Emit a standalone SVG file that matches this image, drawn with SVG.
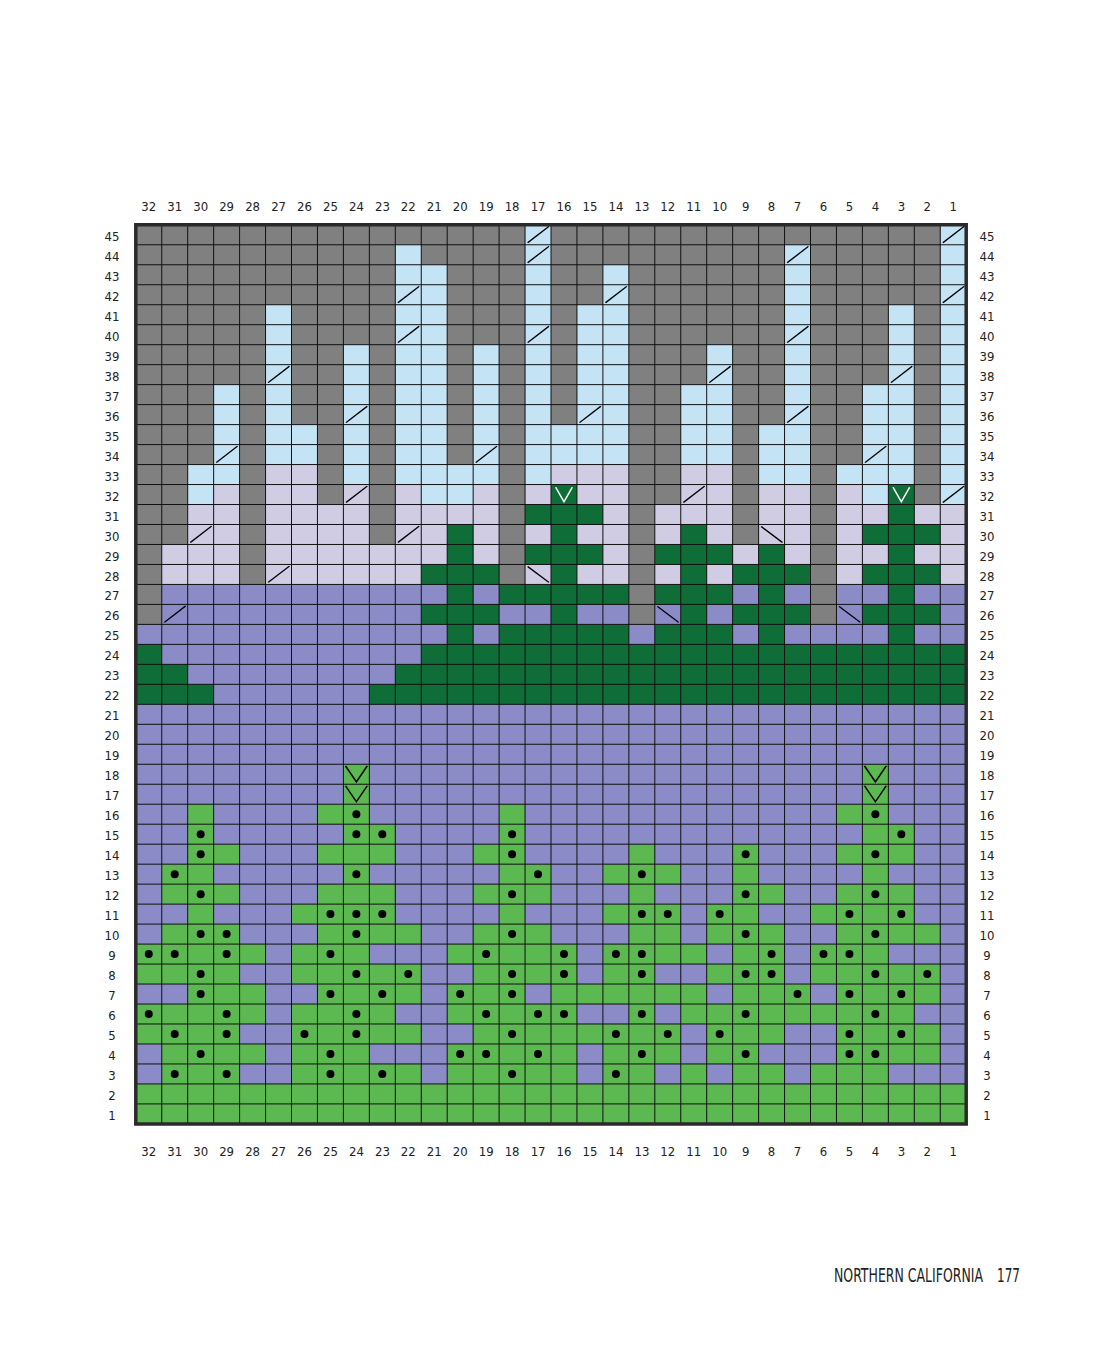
<svg xmlns="http://www.w3.org/2000/svg" xmlns:xlink="http://www.w3.org/1999/xlink" width="1107" height="1364" viewBox="0 0 1107 1364">
<style>
.g{fill:#808080}.b{fill:#c4e4f6}.l{fill:#cfcce4}.p{fill:#8b8bc7}.dk{fill:#0f6e38}.e{fill:#5cb850}
.n{font-family:'Liberation Sans Narrow','DejaVu Sans Condensed','Liberation Sans',sans-serif;font-stretch:condensed;font-size:13px;fill:#222;text-anchor:middle}
.ft{font-family:'Liberation Sans Narrow','DejaVu Sans Condensed','Liberation Sans',sans-serif;font-stretch:condensed;font-size:13.8px;fill:#222}
</style>
<defs>
<path id="s" d="M.1 .9L.92 .08" stroke="#000" stroke-width=".06" fill="none"/>
<path id="bs" d="M.1 .1L.92 .9" stroke="#000" stroke-width=".06" fill="none"/>
<path id="vw" d="M.18 .14L.5 .86L.82 .14" stroke="#fff" stroke-width=".06" fill="none"/>
<path id="vb" d="M.08 .08L.5 .88L.92 .08" stroke="#000" stroke-width=".06" fill="none"/>
<ellipse id="d" cx=".5" cy=".5" rx=".154" ry=".2" fill="#000"/>
</defs>
<rect width="1107" height="1364" fill="#fff"/>
<g id="chart" transform="translate(135.8 224.8) scale(25.95 19.98)">
<rect class="p" width="32" height="45"/>
<rect class="b" width="32" height="14"/>
<path class="l" d="M0 14h32v4h-32zM5 12h2v2h-2zM17 12h2v2h-2zM21 12h2v2h-2zM16 12h1v1h-1zM3 13h1v1h-1zM8 13h1v1h-1zM10 13h1v1h-1zM13 13h1v1h-1zM15 13h1v1h-1zM24 13h2v1h-2zM27 13h1v1h-1z"/>
<path class="g" d="M0 0h1v20h-1zM1 0h1v16h-1zM2 0h1v12h-1zM3 0h1v8h-1zM4 0h1v18h-1zM5 0h1v4h-1zM6 0h1v10h-1zM7 0h1v14h-1zM8 0h1v6h-1zM9 0h1v16h-1zM10 0h1v1h-1zM11 0h1v2h-1zM12 0h1v12h-1zM13 0h1v6h-1zM14 0h1v18h-1zM16 0h1v10h-1zM17 0h1v4h-1zM18 0h1v2h-1zM19 0h1v20h-1zM20 0h1v14h-1zM21 0h1v8h-1zM22 0h1v6h-1zM23 0h1v16h-1zM24 0h1v10h-1zM25 0h1v1h-1zM26 0h1v20h-1zM27 0h1v12h-1zM28 0h1v8h-1zM29 0h1v4h-1zM30 0h1v14h-1z"/>
<path class="dk" d="M16 13h1v1h-1zM29 13h1v1h-1zM15 14h3v1h-3zM29 14h1v1h-1zM12 15h1v1h-1zM16 15h1v1h-1zM21 15h1v1h-1zM28 15h3v1h-3zM12 16h1v1h-1zM15 16h3v1h-3zM20 16h3v1h-3zM24 16h1v1h-1zM29 16h1v1h-1zM11 17h3v1h-3zM16 17h1v1h-1zM21 17h1v1h-1zM23 17h3v1h-3zM28 17h3v1h-3zM12 18h1v1h-1zM14 18h5v1h-5zM20 18h3v1h-3zM24 18h1v1h-1zM29 18h1v1h-1zM11 19h3v1h-3zM16 19h1v1h-1zM21 19h1v1h-1zM23 19h3v1h-3zM28 19h3v1h-3zM12 20h1v1h-1zM14 20h5v1h-5zM20 20h3v1h-3zM24 20h1v1h-1zM29 20h1v1h-1zM11 21h21v3h-21zM10 22h1v2h-1zM9 23h1v1h-1zM0 21h1v3h-1zM1 22h1v2h-1zM2 23h1v1h-1z"/>
<path class="e" d="M8 27h1v2h-1zM28 27h1v2h-1zM2 29h1v1h-1zM7 29h2v1h-2zM14 29h1v1h-1zM27 29h2v1h-2zM2 30h1v1h-1zM8 30h2v1h-2zM14 30h1v1h-1zM28 30h2v1h-2zM2 31h2v1h-2zM7 31h3v1h-3zM13 31h2v1h-2zM19 31h1v1h-1zM23 31h1v1h-1zM27 31h3v1h-3zM1 32h2v1h-2zM8 32h1v1h-1zM14 32h2v1h-2zM18 32h3v1h-3zM23 32h1v1h-1zM28 32h1v1h-1zM1 33h3v1h-3zM7 33h3v1h-3zM13 33h3v1h-3zM19 33h1v1h-1zM23 33h2v1h-2zM27 33h3v1h-3zM2 34h1v1h-1zM6 34h4v1h-4zM14 34h1v1h-1zM18 34h3v1h-3zM22 34h2v1h-2zM26 34h4v1h-4zM1 35h3v1h-3zM7 35h4v1h-4zM13 35h3v1h-3zM19 35h2v1h-2zM22 35h3v1h-3zM27 35h4v1h-4zM0 36h5v1h-5zM6 36h3v1h-3zM12 36h5v1h-5zM18 36h4v1h-4zM23 36h2v1h-2zM26 36h3v1h-3zM0 37h4v1h-4zM6 37h5v1h-5zM13 37h4v1h-4zM18 37h2v1h-2zM22 37h3v1h-3zM26 37h5v1h-5zM2 38h3v1h-3zM7 38h4v1h-4zM12 38h3v1h-3zM16 38h6v1h-6zM23 38h3v1h-3zM27 38h4v1h-4zM0 39h5v1h-5zM6 39h4v1h-4zM12 39h5v1h-5zM19 39h1v1h-1zM21 39h9v1h-9zM0 40h4v1h-4zM6 40h5v1h-5zM13 40h8v1h-8zM22 40h3v1h-3zM27 40h4v1h-4zM1 41h4v1h-4zM6 41h3v1h-3zM12 41h5v1h-5zM18 41h3v1h-3zM22 41h2v1h-2zM27 41h4v1h-4zM1 42h3v1h-3zM6 42h5v1h-5zM12 42h5v1h-5zM18 42h2v1h-2zM21 42h1v1h-1zM23 42h2v1h-2zM26 42h3v1h-3zM0 43h32v2h-32z"/>
<path d="M1 0V45M2 0V45M3 0V45M4 0V45M5 0V45M6 0V45M7 0V45M8 0V45M9 0V45M10 0V45M11 0V45M12 0V45M13 0V45M14 0V45M15 0V45M16 0V45M17 0V45M18 0V45M19 0V45M20 0V45M21 0V45M22 0V45M23 0V45M24 0V45M25 0V45M26 0V45M27 0V45M28 0V45M29 0V45M30 0V45M31 0V45M0 1H32M0 2H32M0 3H32M0 4H32M0 5H32M0 6H32M0 7H32M0 8H32M0 9H32M0 10H32M0 11H32M0 12H32M0 13H32M0 14H32M0 15H32M0 16H32M0 17H32M0 18H32M0 19H32M0 20H32M0 21H32M0 22H32M0 23H32M0 24H32M0 25H32M0 26H32M0 27H32M0 28H32M0 29H32M0 30H32M0 31H32M0 32H32M0 33H32M0 34H32M0 35H32M0 36H32M0 37H32M0 38H32M0 39H32M0 40H32M0 41H32M0 42H32M0 43H32M0 44H32" stroke="#111" stroke-width="1" fill="none" vector-effect="non-scaling-stroke"/>
<rect width="32" height="45" fill="none" stroke="#2a2a2a" stroke-width="3.5" vector-effect="non-scaling-stroke"/>
<g id="slashes">
<use xlink:href="#s" x="15" y="0"/><use xlink:href="#s" x="31" y="0"/>
<use xlink:href="#s" x="15" y="1"/><use xlink:href="#s" x="25" y="1"/>
<use xlink:href="#s" x="10" y="3"/><use xlink:href="#s" x="18" y="3"/><use xlink:href="#s" x="31" y="3"/>
<use xlink:href="#s" x="10" y="5"/><use xlink:href="#s" x="15" y="5"/><use xlink:href="#s" x="25" y="5"/>
<use xlink:href="#s" x="5" y="7"/><use xlink:href="#s" x="22" y="7"/><use xlink:href="#s" x="29" y="7"/>
<use xlink:href="#s" x="8" y="9"/><use xlink:href="#s" x="17" y="9"/><use xlink:href="#s" x="25" y="9"/>
<use xlink:href="#s" x="3" y="11"/><use xlink:href="#s" x="13" y="11"/><use xlink:href="#s" x="28" y="11"/>
<use xlink:href="#s" x="8" y="13"/><use xlink:href="#s" x="21" y="13"/><use xlink:href="#s" x="31" y="13"/>
<use xlink:href="#s" x="2" y="15"/><use xlink:href="#s" x="10" y="15"/>
<use xlink:href="#s" x="5" y="17"/>
<use xlink:href="#s" x="1" y="19"/>
<use xlink:href="#bs" x="24" y="15"/><use xlink:href="#bs" x="15" y="17"/><use xlink:href="#bs" x="20" y="19"/><use xlink:href="#bs" x="27" y="19"/>
<use xlink:href="#vw" x="16" y="13"/><use xlink:href="#vw" x="29" y="13"/>
<use xlink:href="#vb" x="8" y="27"/><use xlink:href="#vb" x="28" y="27"/><use xlink:href="#vb" x="8" y="28"/><use xlink:href="#vb" x="28" y="28"/>
</g>
<g id="dots">
<use xlink:href="#d" x="8" y="29"/><use xlink:href="#d" x="28" y="29"/>
<use xlink:href="#d" x="2" y="30"/><use xlink:href="#d" x="8" y="30"/><use xlink:href="#d" x="9" y="30"/><use xlink:href="#d" x="14" y="30"/><use xlink:href="#d" x="29" y="30"/>
<use xlink:href="#d" x="2" y="31"/><use xlink:href="#d" x="14" y="31"/><use xlink:href="#d" x="23" y="31"/><use xlink:href="#d" x="28" y="31"/>
<use xlink:href="#d" x="1" y="32"/><use xlink:href="#d" x="8" y="32"/><use xlink:href="#d" x="15" y="32"/><use xlink:href="#d" x="19" y="32"/>
<use xlink:href="#d" x="2" y="33"/><use xlink:href="#d" x="14" y="33"/><use xlink:href="#d" x="23" y="33"/><use xlink:href="#d" x="28" y="33"/>
<use xlink:href="#d" x="7" y="34"/><use xlink:href="#d" x="8" y="34"/><use xlink:href="#d" x="9" y="34"/><use xlink:href="#d" x="19" y="34"/><use xlink:href="#d" x="20" y="34"/><use xlink:href="#d" x="22" y="34"/><use xlink:href="#d" x="27" y="34"/><use xlink:href="#d" x="29" y="34"/>
<use xlink:href="#d" x="2" y="35"/><use xlink:href="#d" x="3" y="35"/><use xlink:href="#d" x="8" y="35"/><use xlink:href="#d" x="14" y="35"/><use xlink:href="#d" x="23" y="35"/><use xlink:href="#d" x="28" y="35"/>
<use xlink:href="#d" x="0" y="36"/><use xlink:href="#d" x="1" y="36"/><use xlink:href="#d" x="3" y="36"/><use xlink:href="#d" x="7" y="36"/><use xlink:href="#d" x="13" y="36"/><use xlink:href="#d" x="16" y="36"/><use xlink:href="#d" x="18" y="36"/><use xlink:href="#d" x="19" y="36"/><use xlink:href="#d" x="24" y="36"/><use xlink:href="#d" x="26" y="36"/><use xlink:href="#d" x="27" y="36"/>
<use xlink:href="#d" x="2" y="37"/><use xlink:href="#d" x="8" y="37"/><use xlink:href="#d" x="10" y="37"/><use xlink:href="#d" x="14" y="37"/><use xlink:href="#d" x="16" y="37"/><use xlink:href="#d" x="19" y="37"/><use xlink:href="#d" x="23" y="37"/><use xlink:href="#d" x="24" y="37"/><use xlink:href="#d" x="28" y="37"/><use xlink:href="#d" x="30" y="37"/>
<use xlink:href="#d" x="2" y="38"/><use xlink:href="#d" x="7" y="38"/><use xlink:href="#d" x="9" y="38"/><use xlink:href="#d" x="12" y="38"/><use xlink:href="#d" x="14" y="38"/><use xlink:href="#d" x="25" y="38"/><use xlink:href="#d" x="27" y="38"/><use xlink:href="#d" x="29" y="38"/>
<use xlink:href="#d" x="0" y="39"/><use xlink:href="#d" x="3" y="39"/><use xlink:href="#d" x="8" y="39"/><use xlink:href="#d" x="13" y="39"/><use xlink:href="#d" x="15" y="39"/><use xlink:href="#d" x="16" y="39"/><use xlink:href="#d" x="19" y="39"/><use xlink:href="#d" x="23" y="39"/><use xlink:href="#d" x="28" y="39"/>
<use xlink:href="#d" x="1" y="40"/><use xlink:href="#d" x="3" y="40"/><use xlink:href="#d" x="6" y="40"/><use xlink:href="#d" x="8" y="40"/><use xlink:href="#d" x="14" y="40"/><use xlink:href="#d" x="18" y="40"/><use xlink:href="#d" x="20" y="40"/><use xlink:href="#d" x="22" y="40"/><use xlink:href="#d" x="27" y="40"/><use xlink:href="#d" x="29" y="40"/>
<use xlink:href="#d" x="2" y="41"/><use xlink:href="#d" x="7" y="41"/><use xlink:href="#d" x="12" y="41"/><use xlink:href="#d" x="13" y="41"/><use xlink:href="#d" x="15" y="41"/><use xlink:href="#d" x="19" y="41"/><use xlink:href="#d" x="23" y="41"/><use xlink:href="#d" x="27" y="41"/><use xlink:href="#d" x="28" y="41"/>
<use xlink:href="#d" x="1" y="42"/><use xlink:href="#d" x="3" y="42"/><use xlink:href="#d" x="7" y="42"/><use xlink:href="#d" x="9" y="42"/><use xlink:href="#d" x="14" y="42"/><use xlink:href="#d" x="18" y="42"/>
</g>
</g>
<g id="col-labels-top">
<text class="n" x="148.8" y="211">32</text><text class="n" x="174.7" y="211">31</text><text class="n" x="200.7" y="211">30</text><text class="n" x="226.6" y="211">29</text><text class="n" x="252.6" y="211">28</text><text class="n" x="278.6" y="211">27</text><text class="n" x="304.5" y="211">26</text><text class="n" x="330.5" y="211">25</text><text class="n" x="356.4" y="211">24</text><text class="n" x="382.4" y="211">23</text><text class="n" x="408.3" y="211">22</text><text class="n" x="434.3" y="211">21</text><text class="n" x="460.2" y="211">20</text><text class="n" x="486.2" y="211">19</text><text class="n" x="512.1" y="211">18</text><text class="n" x="538.1" y="211">17</text><text class="n" x="564" y="211">16</text><text class="n" x="590" y="211">15</text><text class="n" x="615.9" y="211">14</text><text class="n" x="641.9" y="211">13</text><text class="n" x="667.8" y="211">12</text><text class="n" x="693.8" y="211">11</text><text class="n" x="719.7" y="211">10</text><text class="n" x="745.7" y="211">9</text><text class="n" x="771.6" y="211">8</text><text class="n" x="797.6" y="211">7</text><text class="n" x="823.5" y="211">6</text><text class="n" x="849.5" y="211">5</text><text class="n" x="875.4" y="211">4</text><text class="n" x="901.4" y="211">3</text><text class="n" x="927.3" y="211">2</text><text class="n" x="953.3" y="211">1</text>
</g>
<g id="col-labels-bottom">
<text class="n" x="148.8" y="1156">32</text><text class="n" x="174.7" y="1156">31</text><text class="n" x="200.7" y="1156">30</text><text class="n" x="226.6" y="1156">29</text><text class="n" x="252.6" y="1156">28</text><text class="n" x="278.6" y="1156">27</text><text class="n" x="304.5" y="1156">26</text><text class="n" x="330.5" y="1156">25</text><text class="n" x="356.4" y="1156">24</text><text class="n" x="382.4" y="1156">23</text><text class="n" x="408.3" y="1156">22</text><text class="n" x="434.3" y="1156">21</text><text class="n" x="460.2" y="1156">20</text><text class="n" x="486.2" y="1156">19</text><text class="n" x="512.1" y="1156">18</text><text class="n" x="538.1" y="1156">17</text><text class="n" x="564" y="1156">16</text><text class="n" x="590" y="1156">15</text><text class="n" x="615.9" y="1156">14</text><text class="n" x="641.9" y="1156">13</text><text class="n" x="667.8" y="1156">12</text><text class="n" x="693.8" y="1156">11</text><text class="n" x="719.7" y="1156">10</text><text class="n" x="745.7" y="1156">9</text><text class="n" x="771.6" y="1156">8</text><text class="n" x="797.6" y="1156">7</text><text class="n" x="823.5" y="1156">6</text><text class="n" x="849.5" y="1156">5</text><text class="n" x="875.4" y="1156">4</text><text class="n" x="901.4" y="1156">3</text><text class="n" x="927.3" y="1156">2</text><text class="n" x="953.3" y="1156">1</text>
</g>
<g id="row-labels-left">
<text class="n" x="112" y="240.8">45</text><text class="n" x="112" y="260.8">44</text><text class="n" x="112" y="280.7">43</text><text class="n" x="112" y="300.7">42</text><text class="n" x="112" y="320.7">41</text><text class="n" x="112" y="340.7">40</text><text class="n" x="112" y="360.7">39</text><text class="n" x="112" y="380.7">38</text><text class="n" x="112" y="400.6">37</text><text class="n" x="112" y="420.6">36</text><text class="n" x="112" y="440.6">35</text><text class="n" x="112" y="460.6">34</text><text class="n" x="112" y="480.6">33</text><text class="n" x="112" y="500.5">32</text><text class="n" x="112" y="520.5">31</text><text class="n" x="112" y="540.5">30</text><text class="n" x="112" y="560.5">29</text><text class="n" x="112" y="580.5">28</text><text class="n" x="112" y="600.4">27</text><text class="n" x="112" y="620.4">26</text><text class="n" x="112" y="640.4">25</text><text class="n" x="112" y="660.4">24</text><text class="n" x="112" y="680.4">23</text><text class="n" x="112" y="700.3">22</text><text class="n" x="112" y="720.3">21</text><text class="n" x="112" y="740.3">20</text><text class="n" x="112" y="760.3">19</text><text class="n" x="112" y="780.3">18</text><text class="n" x="112" y="800.2">17</text><text class="n" x="112" y="820.2">16</text><text class="n" x="112" y="840.2">15</text><text class="n" x="112" y="860.2">14</text><text class="n" x="112" y="880.2">13</text><text class="n" x="112" y="900.1">12</text><text class="n" x="112" y="920.1">11</text><text class="n" x="112" y="940.1">10</text><text class="n" x="112" y="960.1">9</text><text class="n" x="112" y="980.1">8</text><text class="n" x="112" y="1000">7</text><text class="n" x="112" y="1020">6</text><text class="n" x="112" y="1040">5</text><text class="n" x="112" y="1060">4</text><text class="n" x="112" y="1080">3</text><text class="n" x="112" y="1100">2</text><text class="n" x="112" y="1120">1</text>
</g>
<g id="row-labels-right">
<text class="n" x="987" y="240.8">45</text><text class="n" x="987" y="260.8">44</text><text class="n" x="987" y="280.7">43</text><text class="n" x="987" y="300.7">42</text><text class="n" x="987" y="320.7">41</text><text class="n" x="987" y="340.7">40</text><text class="n" x="987" y="360.7">39</text><text class="n" x="987" y="380.7">38</text><text class="n" x="987" y="400.6">37</text><text class="n" x="987" y="420.6">36</text><text class="n" x="987" y="440.6">35</text><text class="n" x="987" y="460.6">34</text><text class="n" x="987" y="480.6">33</text><text class="n" x="987" y="500.5">32</text><text class="n" x="987" y="520.5">31</text><text class="n" x="987" y="540.5">30</text><text class="n" x="987" y="560.5">29</text><text class="n" x="987" y="580.5">28</text><text class="n" x="987" y="600.4">27</text><text class="n" x="987" y="620.4">26</text><text class="n" x="987" y="640.4">25</text><text class="n" x="987" y="660.4">24</text><text class="n" x="987" y="680.4">23</text><text class="n" x="987" y="700.3">22</text><text class="n" x="987" y="720.3">21</text><text class="n" x="987" y="740.3">20</text><text class="n" x="987" y="760.3">19</text><text class="n" x="987" y="780.3">18</text><text class="n" x="987" y="800.2">17</text><text class="n" x="987" y="820.2">16</text><text class="n" x="987" y="840.2">15</text><text class="n" x="987" y="860.2">14</text><text class="n" x="987" y="880.2">13</text><text class="n" x="987" y="900.1">12</text><text class="n" x="987" y="920.1">11</text><text class="n" x="987" y="940.1">10</text><text class="n" x="987" y="960.1">9</text><text class="n" x="987" y="980.1">8</text><text class="n" x="987" y="1000">7</text><text class="n" x="987" y="1020">6</text><text class="n" x="987" y="1040">5</text><text class="n" x="987" y="1060">4</text><text class="n" x="987" y="1080">3</text><text class="n" x="987" y="1100">2</text><text class="n" x="987" y="1120">1</text>
</g>
<g id="footer" transform="translate(0 1282) scale(1 1.45)">
<text class="ft" x="834" y="0" textLength="149" lengthAdjust="spacingAndGlyphs">NORTHERN CALIFORNIA</text>
<text class="ft" x="997" y="0" textLength="23" lengthAdjust="spacingAndGlyphs">177</text>
</g>
</svg>
